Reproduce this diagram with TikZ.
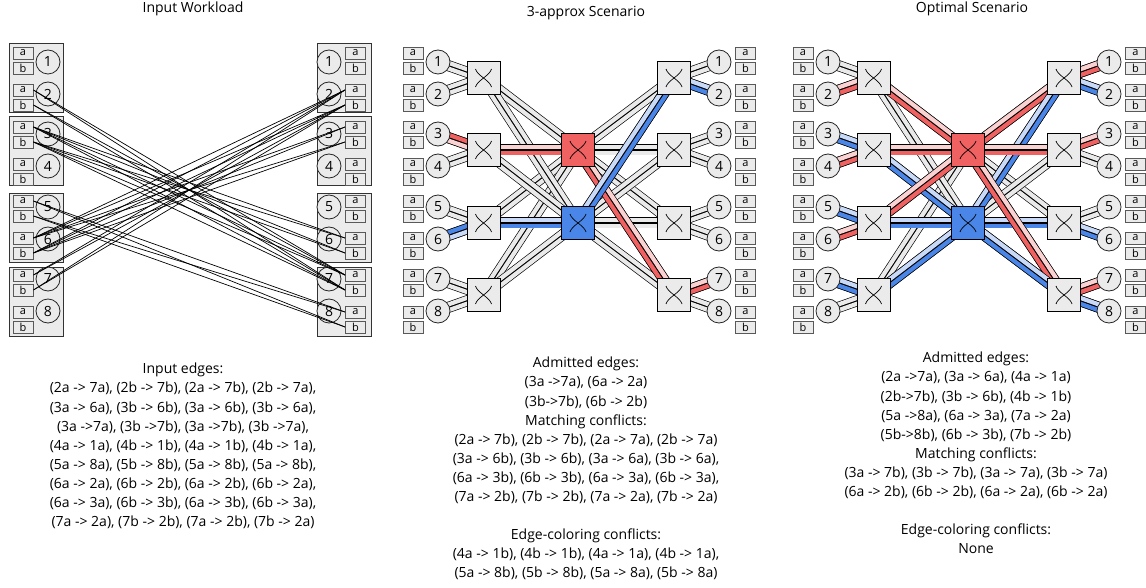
\documentclass[tikz,border=0pt]{standalone}
\usepackage{fontspec}
\setmainfont{Open Sans}
\usetikzlibrary{calc}
\definecolor{cFill}{HTML}{EBEBEB}
\definecolor{cLane}{HTML}{EAEAEA}
\definecolor{cRed}{HTML}{F06262}
\definecolor{cPink}{HTML}{FBD2D2}
\definecolor{cBlue}{HTML}{4A86E8}
\definecolor{cSky}{HTML}{C9DAF8}
\pgfdeclarelayer{background}
\pgfsetlayers{background,main}
\tikzset{
    port/.style  ={draw=black!65, line width=0.9pt, fill=cFill, inner sep=0pt,
                   minimum width=20pt, minimum height=12pt,
                   font=\fontsize{11}{11}\selectfont},
    host/.style  ={circle, draw=black!85, line width=0.8pt, fill=cFill,
                   minimum size=24pt, inner sep=0pt,
                   font=\fontsize{14}{14}\selectfont},
    rack/.style  ={draw=black!80, line width=0.8pt, fill=cFill,
                   minimum width=54pt, minimum height=69pt},
    switch/.style={draw, line width=0.8pt, fill=cFill, minimum size=33pt,
                   inner sep=0pt,
                   path picture={
                     \draw[line width=0.7pt]
                       ([shift={(-8pt,9pt)}]path picture bounding box.center)
                       .. controls +(2pt,-7pt) and +(-2pt,7pt) ..
                       ([shift={(8pt,-9pt)}]path picture bounding box.center)
                       ([shift={(8pt,9pt)}]path picture bounding box.center)
                       .. controls +(-2pt,-7pt) and +(2pt,7pt) ..
                       ([shift={(-8pt,-9pt)}]path picture bounding box.center);}},
    wire/.style  ={line width=0.7pt, black},
    sheath/.style={line width=11pt, black},
    lane/.style  ={line width=4.2pt},
    title/.style ={font=\fontsize{14}{14}\selectfont},
    list/.style  ={align=center, anchor=north, inner sep=0pt,
                   font=\fontsize{14}{19.1}\selectfont},
}
% one cable = two lanes, left and right of the way from #1 to #2
\newcommand{\cable}[4]{%
  \draw[sheath] (#1.center) -- (#2.center);
  \draw[lane, #3] ($(#1.center)!2.75pt!90:(#2.center)$) -- ($(#2.center)!2.75pt!-90:(#1.center)$);
  \draw[lane, #4] ($(#1.center)!2.75pt!-90:(#2.center)$) -- ($(#2.center)!2.75pt!90:(#1.center)$);
}
% hosts, ports and switches of one scenario
\newcommand{\fabric}[1]{%
  \foreach \i/\cy in {1/62,2/94,3/134,4/166,5/207,6/239,7/279,8/311}{
    \node[host] (#1-l\i) at (438,\cy) {\i};
    \node[host] (#1-r\i) at (719,\cy) {\i};
    \foreach \p/\dy in {a/0,b/15}{
      \node[port] (#1-l\i\p) at (413,{53+37*(\i-1)+\dy}) {\p};
      \node[port] (#1-r\i\p) at (745.5,{53+37*(\i-1)+\dy}) {\p};
    }
  }
  \foreach \k/\sy in {1/78,2/150,3/223,4/295}{
    \node[switch] (#1-ls\k) at (483.5,\sy) {};
    \node[switch] (#1-rs\k) at (674,\sy) {};
  }
  \node[switch, fill=cRed]  (#1-c1) at (578,150) {};
  \node[switch, fill=cBlue] (#1-c2) at (578,223) {};
}
% every cable of one scenario, plain
\newcommand{\plaincables}[1]{%
  \foreach \a/\b in {l1/ls1,l2/ls1,l3/ls2,l4/ls2,l5/ls3,l6/ls3,l7/ls4,l8/ls4,
                     rs1/r1,rs1/r2,rs2/r3,rs2/r4,rs3/r5,rs3/r6,rs4/r7,rs4/r8,
                     ls1/c1,ls2/c1,ls3/c1,ls4/c1,ls1/c2,ls2/c2,ls3/c2,ls4/c2,
                     c1/rs1,c1/rs2,c1/rs3,c1/rs4,c2/rs1,c2/rs2,c2/rs3,c2/rs4}
    \cable{#1-\a}{#1-\b}{cLane}{cLane};
}

\begin{document}
\begin{tikzpicture}[x=1pt, y=-1pt]
\useasboundingbox (0,0) rectangle (1146,588);

% ===================== Input workload =====================
\node[title] (intitle) at (193,9) {Input Workload};
\foreach \k/\ry in {1/77.5,2/151,3/227.5,4/301.5}{
  \node[rack] (in-lr\k) at (36,\ry) {};
  \node[rack] (in-rr\k) at (344,\ry) {};
}
\foreach \i/\cy in {1/62,2/94,3/134,4/166,5/207,6/239,7/279,8/311}{
  \node[host] (in-l\i) at (48,\cy) {\i};
  \node[host] (in-r\i) at (329,\cy) {\i};
  \foreach \p/\dy in {a/0,b/15}{
    \node[port] (in-l\i\p) at (23,{53+37*(\i-1)+\dy}) {\p};
    \node[port] (in-r\i\p) at (355.5,{53+37*(\i-1)+\dy}) {\p};
  }
}
\foreach \s/\t in {2a/7a,2b/7b,2a/7b,2b/7a,3a/6a,3b/6b,3a/6b,3b/6a,
                   3a/7a,3b/7b,3a/7b,3b/7a,5a/8a,5b/8b,5a/8b,5b/8a,
                   6a/2a,6b/2b,6a/2b,6b/2a,6a/3a,6b/3b,6a/3b,6b/3a,
                   7a/2a,7b/2b,7a/2b,7b/2a}
  \draw[wire] (in-l\s.east) -- (in-r\t.west);

\node[list] (inlist) at (183,363) {Input edges:\\
(2a -> 7a), (2b -> 7b), (2a -> 7b), (2b -> 7a),\\
(3a -> 6a), (3b -> 6b), (3a -> 6b), (3b -> 6a),\\
(3a ->7a), (3b ->7b), (3a ->7b), (3b ->7a),\\
(4a -> 1a), (4b -> 1b), (4a -> 1b), (4b -> 1a),\\
(5a -> 8a), (5b -> 8b), (5a -> 8b), (5a -> 8b),\\
(6a -> 2a), (6b -> 2b), (6a -> 2b), (6b -> 2a),\\
(6a -> 3a), (6b -> 3b), (6a -> 3b), (6b -> 3a),\\
(7a -> 2a), (7b -> 2b), (7a -> 2b), (7b -> 2a)};

% ===================== 3-approx scenario =====================
\node[title] (aptitle) at (586,13) {3-approx Scenario};
\fabric{ap}
\begin{pgfonlayer}{background}
\plaincables{ap}
\cable{ap-l3}{ap-ls2}{cRed}{cPink}
\cable{ap-ls2}{ap-c1}{cPink}{cRed}
\cable{ap-l6}{ap-ls3}{cBlue}{cSky}
\cable{ap-ls3}{ap-c2}{cSky}{cBlue}
\cable{ap-c1}{ap-rs4}{cPink}{cRed}
\cable{ap-rs4}{ap-r7}{cPink}{cRed}
\cable{ap-c2}{ap-rs1}{cSky}{cBlue}
\cable{ap-rs1}{ap-r2}{cSky}{cBlue}
\end{pgfonlayer}

\node[list] (aplist) at (586,357) {Admitted edges:\\
(3a ->7a), (6a -> 2a)\\
(3b->7b), (6b -> 2b)\\
Matching conflicts:\\
(2a -> 7b), (2b -> 7b), (2a -> 7a), (2b -> 7a)\\
(3a -> 6b), (3b -> 6b), (3a -> 6a), (3b -> 6a),\\
(6a -> 3b), (6b -> 3b), (6a -> 3a), (6b -> 3a),\\
(7a -> 2b), (7b -> 2b), (7a -> 2a), (7b -> 2a)\\[19.1pt]
Edge-coloring conflicts:\\
(4a -> 1b), (4b -> 1b), (4a -> 1a), (4b -> 1a),\\
(5a -> 8b), (5b -> 8b), (5a -> 8a), (5b -> 8a)};

% ===================== Optimal scenario =====================
\node[title] (optitle) at (972,9) {Optimal Scenario};
\begin{scope}[xshift=390pt]
\fabric{op}
\end{scope}
\begin{pgfonlayer}{background}
\plaincables{op}
\cable{op-l2}{op-ls1}{cPink}{cRed}
\cable{op-l3}{op-ls2}{cSky}{cBlue}
\cable{op-l4}{op-ls2}{cPink}{cRed}
\cable{op-l5}{op-ls3}{cSky}{cBlue}
\cable{op-l6}{op-ls3}{cPink}{cRed}
\cable{op-l7}{op-ls4}{cSky}{cBlue}
\cable{op-ls1}{op-c1}{cPink}{cRed}
\cable{op-ls2}{op-c1}{cPink}{cRed}
\cable{op-ls2}{op-c2}{cSky}{cBlue}
\cable{op-ls3}{op-c1}{cPink}{cRed}
\cable{op-ls3}{op-c2}{cSky}{cBlue}
\cable{op-ls4}{op-c2}{cSky}{cBlue}
\cable{op-c1}{op-rs1}{cPink}{cRed}
\cable{op-c2}{op-rs1}{cSky}{cBlue}
\cable{op-c1}{op-rs2}{cPink}{cRed}
\cable{op-c2}{op-rs3}{cSky}{cBlue}
\cable{op-c1}{op-rs4}{cPink}{cRed}
\cable{op-c2}{op-rs4}{cSky}{cBlue}
\cable{op-rs1}{op-r1}{cPink}{cRed}
\cable{op-rs1}{op-r2}{cSky}{cBlue}
\cable{op-rs2}{op-r3}{cPink}{cRed}
\cable{op-rs3}{op-r6}{cSky}{cBlue}
\cable{op-rs4}{op-r7}{cPink}{cRed}
\cable{op-rs4}{op-r8}{cSky}{cBlue}
\end{pgfonlayer}

\node[list] (oplist) at (976,352) {Admitted edges:\\
(2a ->7a), (3a -> 6a), (4a -> 1a)\\
(2b->7b), (3b -> 6b), (4b -> 1b)\\
(5a ->8a), (6a -> 3a), (7a -> 2a)\\
(5b->8b), (6b -> 3b), (7b -> 2b)\\
Matching conflicts:\\
(3a -> 7b), (3b -> 7b), (3a -> 7a), (3b -> 7a)\\
(6a -> 2b), (6b -> 2b), (6a -> 2a), (6b -> 2a)\\[19.1pt]
Edge-coloring conflicts:\\
None};

\end{tikzpicture}
\end{document}
